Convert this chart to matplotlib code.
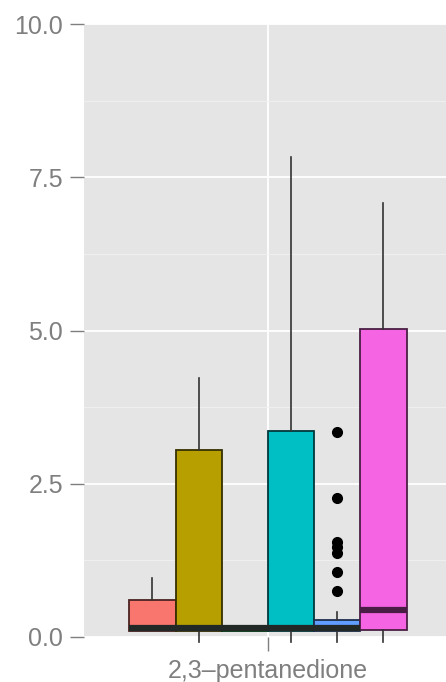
import numpy as np
import matplotlib
matplotlib.use("Agg")
import matplotlib.pyplot as plt
from matplotlib.colors import to_rgb

plt.rcParams['font.family'] = ['Liberation Sans', 'DejaVu Sans']

# one compound, six dodged groups
compound = "2,3\u2013pentanedione"
group_colors = ["#F8766D", "#B79F00", "#00BA38", "#00BFC4", "#619CFF", "#F564E3"]

# box statistics per group
whislo = [0.10, -0.08, 0.10, -0.08, -0.08, -0.08]
q1 = [0.10, 0.10, 0.10, 0.10, 0.10, 0.12]
med = [0.14, 0.14, 0.14, 0.14, 0.14, 0.44]
q3 = [0.61, 3.05, 0.16, 3.36, 0.28, 5.02]
whishi = [0.96, 4.22, 0.16, 7.83, 0.40, 7.08]
fliers = [[], [], [], [], [0.75, 1.06, 1.37, 1.47, 1.55, 2.27, 3.35], []]

y_ticks = [0.0, 2.5, 5.0, 7.5, 10.0]
y_minor = [1.25, 3.75, 6.25, 8.75]


def darken(c, f):
    r, g, b = to_rgb(c)
    return (r * f, g * f, b * f)


fig = plt.figure(figsize=(4.46, 6.82), dpi=100)
ax = fig.add_axes([84 / 446, 45 / 682, 362 / 446, 613 / 682])
ax.set_facecolor("#E5E5E5")

n = len(group_colors)
box_w = 0.9 / n
positions = [1 + (i - (n - 1) / 2) * box_w for i in range(n)]

stats = []
for i in range(n):
    stats.append(dict(med=med[i], q1=q1[i], q3=q3[i], whislo=whislo[i],
                      whishi=whishi[i], fliers=fliers[i]))

bp = ax.bxp(stats, positions=positions, widths=box_w, patch_artist=True,
            showcaps=False, manage_ticks=False, zorder=3,
            flierprops=dict(marker="o", markersize=7, markerfacecolor="black",
                            markeredgecolor="black", linestyle="none"))

for i, box in enumerate(bp["boxes"]):
    box.set_facecolor(group_colors[i])
    box.set_edgecolor(darken(group_colors[i], 0.3))
    box.set_linewidth(1.3)
for i, m in enumerate(bp["medians"]):
    m.set_color(darken(group_colors[i], 0.3) if i == n - 1 else "#222826")
    m.set_linewidth(4.5)
    m.set_solid_capstyle("butt")
for w in bp["whiskers"]:
    w.set_color("#333333")
    w.set_linewidth(1.2)
    w.set_clip_on(False)

ax.set_xlim(0.403, 1.578)
ax.set_ylim(0, 10)

ax.set_yticks(y_ticks)
ax.set_yticklabels([f"{v:.1f}" for v in y_ticks])
ax.set_yticks(y_minor, minor=True)
ax.set_xticks([1])
ax.set_xticklabels([compound])

ax.grid(True, which="major", color="white", linewidth=1.3, zorder=0)
ax.grid(True, which="minor", axis="y", color="#F2F2F2", linewidth=0.6, zorder=0)
ax.set_axisbelow(True)

for s in ax.spines.values():
    s.set_visible(False)
ax.tick_params(axis="both", which="major", length=10, width=1, color="#7F7F7F",
               labelcolor="#7F7F7F", labelsize=18)
ax.tick_params(axis="y", which="major", pad=5)
ax.tick_params(axis="x", which="major", pad=6)
ax.tick_params(axis="y", which="minor", length=0)

fig.savefig("out.png", dpi=100)
